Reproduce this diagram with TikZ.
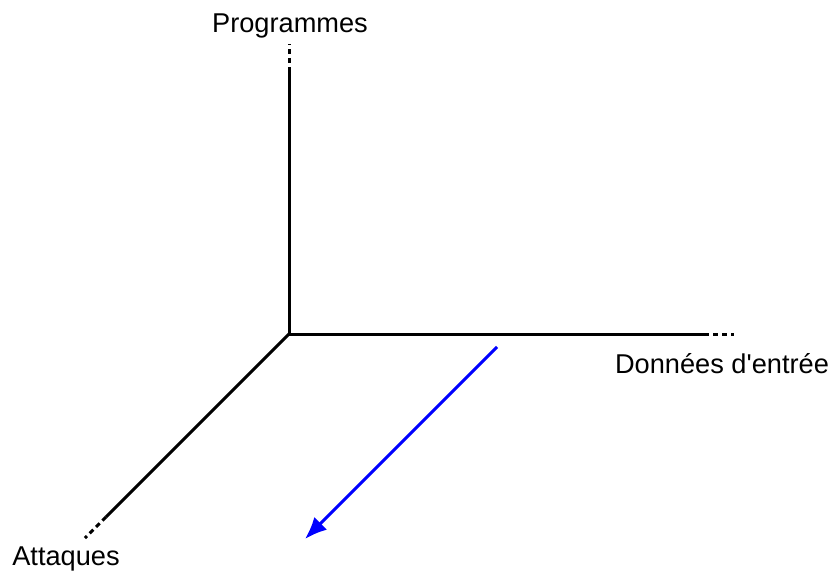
\documentclass[tikz,border=0pt]{standalone}
\usepackage{fontspec}
\setmainfont{Liberation Sans}[Ligatures=TeXOff]
\usetikzlibrary{arrows.meta}
\begin{document}
\begin{tikzpicture}[x=1pt,y=-1pt,
  axis/.style={line width=3pt,black},
  axisdash/.style={line width=3pt,black,dash pattern=on 5pt off 4pt},
  lbl/.style={font=\fontsize{27.2}{30}\selectfont,inner sep=0pt,anchor=base},
  blue arrow/.style={line width=3pt,blue,-{Latex[length=22pt,width=18pt]}}]
\useasboundingbox (0,0) rectangle (833,572);
\coordinate (O) at (289,334);
\coordinate (vs) at (289,72);
\coordinate (ve) at (289,44);
\coordinate (hs) at (704,334);
\coordinate (he) at (734,334);
\coordinate (ds) at (106,517);
\coordinate (de) at (85,538);
\draw[axis] (vs) -- (O) -- (hs);
\draw[axis] (O) -- (ds);
\draw[axisdash] (vs) -- (ve);
\draw[axisdash] (hs) -- (he);
\draw[axisdash] (ds) -- (de);
\node[lbl] (prog) at (290,33) {Programmes};
\node[lbl] (donnees) at (722,373) {Données d'entrée};
\node[lbl] (att) at (66,565) {Attaques};
\coordinate (a1) at (497,347);
\coordinate (a2) at (305,539);
\draw[blue arrow] (a1) -- (a2);
\end{tikzpicture}
\end{document}
